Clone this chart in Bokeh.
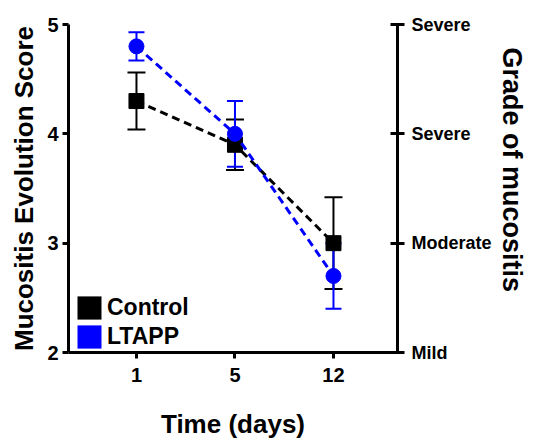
from bokeh.plotting import figure
from bokeh.models import (Range1d, LinearAxis, FixedTicker, Whisker, TeeHead,
                          ColumnDataSource, Legend, LegendItem, Title)
from bokeh.embed import file_html
from bokeh.resources import INLINE

# ---- data ----
days = ["1", "5", "12"]
control_mean = [4.3, 3.9, 3.0]
control_err = [0.26, 0.23, 0.42]
ltapp_mean = [4.8, 4.0, 2.7]
ltapp_err = [0.13, 0.30, 0.30]
score_ticks = [2, 3, 4, 5]
grade_ticks = [2, 3, 4, 5]
grade_labels = ["Mild", "Moderate", "Severe", "Severe"]

FONT = "Liberation Sans"
idx = list(range(len(days)))

p = figure(width=533, height=441, output_backend="svg", toolbar_location=None,
           x_range=Range1d(-0.69, 2.65), y_range=Range1d(2, 5),
           min_border_left=68, min_border_right=136, min_border_top=24,
           min_border_bottom=87, x_axis_location=None, y_axis_location=None)
p.outline_line_color = None
p.xgrid.visible = False
p.ygrid.visible = False
p.background_fill_color = "white"


def style_axis(ax, size="20px"):
    ax.axis_line_width = 3
    ax.axis_line_color = "black"
    ax.major_tick_line_width = 3
    ax.major_tick_line_color = "black"
    ax.minor_tick_line_color = None
    ax.major_label_text_font = FONT
    ax.major_label_text_font_style = "bold"
    ax.major_label_text_font_size = size
    ax.major_label_text_color = "black"
    ax.axis_label_text_font = FONT
    ax.axis_label_text_font_style = "bold"
    ax.axis_label_text_font_size = "26px"
    ax.axis_label_text_color = "black"


# left axis
ya = LinearAxis(ticker=FixedTicker(ticks=score_ticks), axis_label="Mucositis Evolution Score")
style_axis(ya)
ya.major_tick_out = 6
ya.major_tick_in = 0
ya.major_label_standoff = 4
ya.axis_label_standoff = 5
p.add_layout(ya, "left")

# bottom axis
xa = LinearAxis(ticker=FixedTicker(ticks=idx), axis_label="Time (days)")
xa.major_label_overrides = {i: d for i, d in zip(idx, days)}
style_axis(xa)
xa.major_tick_out = 6
xa.major_tick_in = 0
xa.major_label_standoff = 9
xa.axis_label_standoff = 24
p.add_layout(xa, "below")

# right axis (grades)
ra = LinearAxis(ticker=FixedTicker(ticks=grade_ticks))
ra.major_label_overrides = {t: l for t, l in zip(grade_ticks, grade_labels)}
style_axis(ra, "18px")
ra.major_tick_out = 7
ra.major_tick_in = 7
ra.major_label_standoff = 7
p.add_layout(ra, "right")

# right title, reading top to bottom
title_r = Title(text="Grade of mucositis", align="left", offset=23,
                standoff=5, text_font=FONT, text_font_style="bold",
                text_font_size="27px", text_color="black")
p.add_layout(title_r, "right")

# series
src_c = ColumnDataSource(dict(x=idx, y=control_mean,
                              lo=[m - e for m, e in zip(control_mean, control_err)],
                              hi=[m + e for m, e in zip(control_mean, control_err)]))
src_l = ColumnDataSource(dict(x=idx, y=ltapp_mean,
                              lo=[m - e for m, e in zip(ltapp_mean, ltapp_err)],
                              hi=[m + e for m, e in zip(ltapp_mean, ltapp_err)]))

BLUE = "#0000ff"
p.line("x", "y", source=src_c, line_color="black", line_width=3, line_dash="8 5")
p.scatter("x", "y", source=src_c, marker="square", size=15, color="black")
p.line("x", "y", source=src_l, line_color=BLUE, line_width=3, line_dash="8 5")
p.scatter("x", "y", source=src_l, marker="circle", size=15, color=BLUE)

for src, col, w in [(src_c, "black", 18), (src_l, BLUE, 16)]:
    wh = Whisker(source=src, base="x", upper="hi", lower="lo",
                 line_color=col, line_width=2,
                 upper_head=TeeHead(size=w, line_color=col, line_width=2),
                 lower_head=TeeHead(size=w, line_color=col, line_width=2))
    p.add_layout(wh)

# legend with filled boxes (quads hold no visible geometry)
nan = float("nan")
qc = p.quad(top=[nan], bottom=[nan], left=[nan], right=[nan], fill_color="black", line_color=None)
ql = p.quad(top=[nan], bottom=[nan], left=[nan], right=[nan], fill_color=BLUE, line_color=None)
leg = Legend(items=[LegendItem(label="Control", renderers=[qc]),
                    LegendItem(label="LTAPP", renderers=[ql])],
             location=(6, 1), glyph_width=30, glyph_height=29, spacing=-5,
             padding=0, margin=0, label_standoff=3,
             label_text_font=FONT, label_text_font_style="bold",
             label_text_font_size="23px", label_height=24,
             label_text_color="black",
             border_line_color=None, background_fill_alpha=0)
p.add_layout(leg, "center")

open("out.html", "w").write(file_html(p, INLINE))
